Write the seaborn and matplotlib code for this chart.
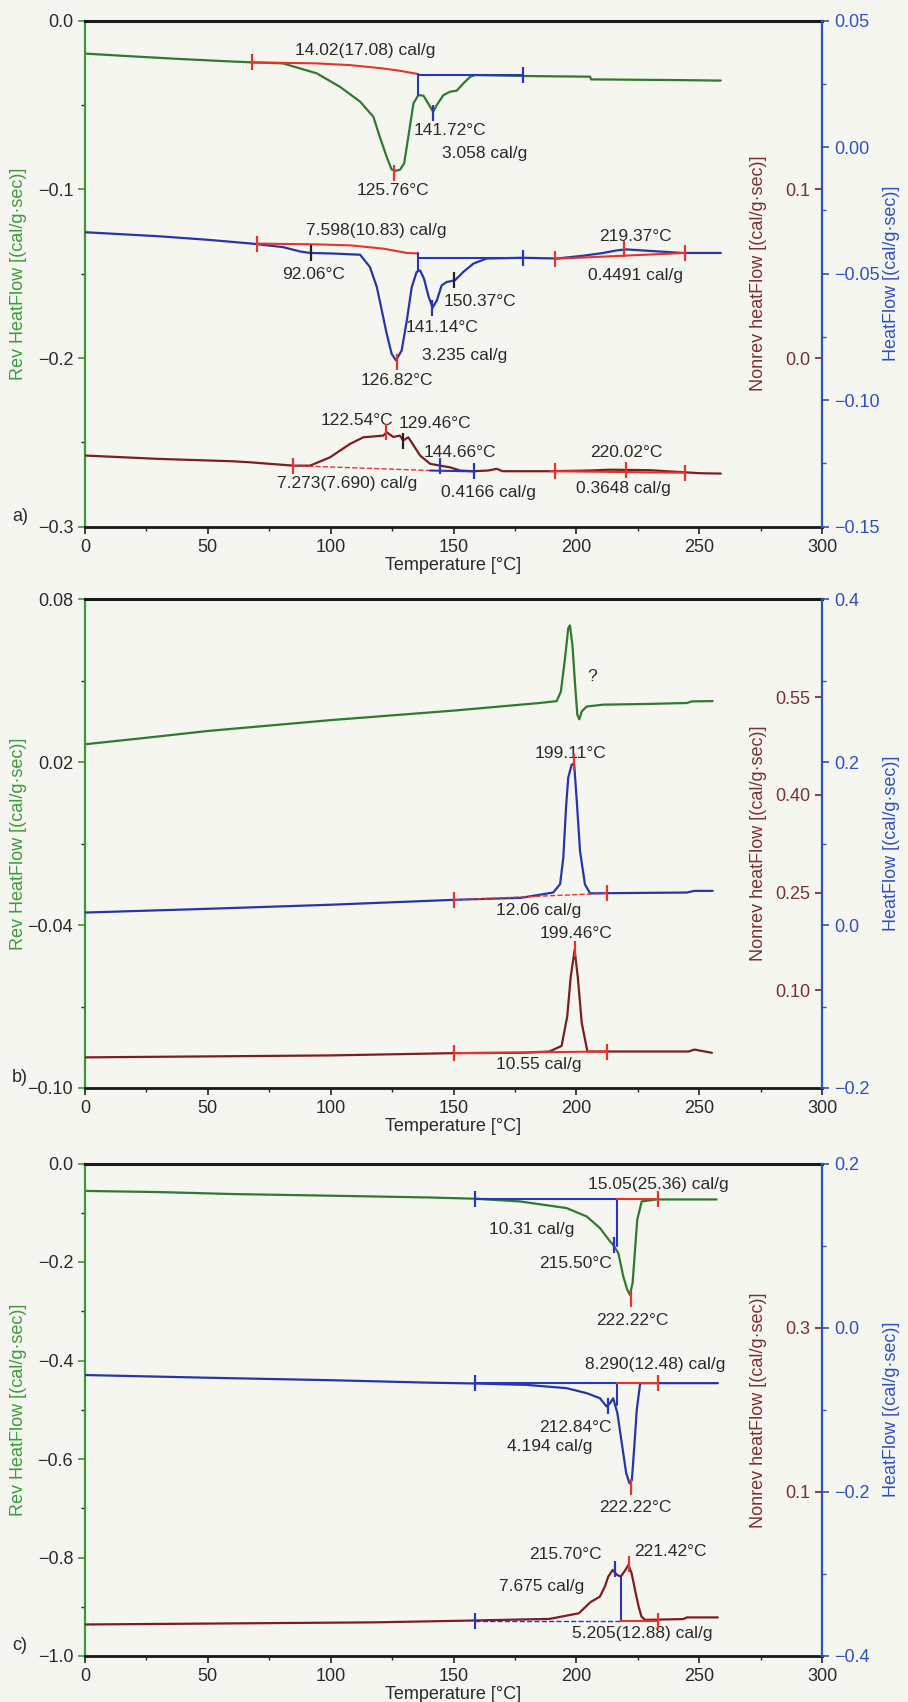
import seaborn as sns
import matplotlib.pyplot as plt
from matplotlib.ticker import FixedLocator, FuncFormatter, MultipleLocator

# ---------------- data: temperature [°C] and heat flow [cal/(g·s)] ----------------
# panel a)
a_rev_T = [0, 20, 40, 60, 68, 80.6, 94.3, 103.8, 112, 117.4, 120, 122.8, 124.8, 126.5, 128.2,
           129.9, 131.6, 133.7, 135.7, 137.8, 140.5, 141.7, 143.2, 145.9, 148.6, 151.3, 154,
           156.8, 158.8, 178.4, 205.6, 206, 241, 258.8]
a_rev = [-0.0195, -0.0212, -0.0228, -0.0242, -0.0247, -0.0253, -0.0312, -0.0392, -0.0480, -0.0570,
         -0.0689, -0.0807, -0.0882, -0.0890, -0.0884, -0.0847, -0.0689, -0.0490, -0.0441, -0.0445,
         -0.0510, -0.0540, -0.0500, -0.0441, -0.0421, -0.0415, -0.0372, -0.0332, -0.0322, -0.0328,
         -0.0332, -0.0348, -0.0352, -0.0355]
a_hf_T = [0, 30, 50, 68, 80.6, 87.5, 91.5, 100, 112, 116, 118.8, 120.8, 122.8, 124.8, 126.6,
          128.9, 131, 133, 135, 136.4, 138, 139.9, 141.5, 143.2, 145.2, 147.2, 150.6, 154, 158.1,
          163.5, 178.4, 192, 202.8, 211, 216.4, 220.4, 230, 243.5, 258.8]
a_hf = [-0.0336, -0.0352, -0.0366, -0.0381, -0.0395, -0.0412, -0.0418, -0.0420, -0.0425, -0.0474,
        -0.0553, -0.0645, -0.0737, -0.0816, -0.0843, -0.0803, -0.0685, -0.0553, -0.0493, -0.0487,
        -0.0520, -0.0592, -0.0634, -0.0606, -0.0546, -0.0533, -0.0526, -0.0493, -0.0460, -0.0440,
        -0.0437, -0.0440, -0.0429, -0.0418, -0.0408, -0.0404, -0.0410, -0.0418, -0.0418]
a_nr_T = [0, 30, 60, 67, 84.8, 91.6, 99.7, 107.9, 113.3, 121.4, 122.8, 125.5, 128.2, 129.5, 131.6,
          133.8, 136.4, 140.5, 144.5, 148.6, 152.7, 158.2, 164, 167.6, 170, 189.3, 205, 213.7, 230,
          236.8, 250.4, 258.8]
a_nr = [-0.0578, -0.0598, -0.0612, -0.0618, -0.0638, -0.0638, -0.0589, -0.0509, -0.0470, -0.0460,
        -0.0440, -0.0468, -0.0460, -0.0489, -0.0470, -0.0519, -0.0578, -0.0627, -0.0638, -0.0648,
        -0.0667, -0.0671, -0.0667, -0.0657, -0.0671, -0.0671, -0.0667, -0.0662, -0.0665, -0.0671,
        -0.0683, -0.0685]
# integration baselines: (axis, temperatures, values, colour, style)
a_base = [('rev', [68, 94, 107.6, 121.3, 128.2, 135.5], [-0.0247, -0.0253, -0.0263, -0.0283, -0.0297, -0.0316], 'r', '-'),
          ('rev', [135.7, 178.4], [-0.0322, -0.0322], 'b', '-'),
          ('rev', [135.7, 135.7], [-0.0316, -0.0441], 'b', '-'),
          ('hf', [69.9, 94, 108, 121.5, 131, 135.4], [-0.0381, -0.0384, -0.0388, -0.0401, -0.0418, -0.0420], 'r', '-'),
          ('hf', [135.4, 178.4], [-0.0437, -0.0437], 'b', '-'),
          ('hf', [135.4, 135.4], [-0.0420, -0.0487], 'b', '-'),
          ('hf', [191.3, 244.3], [-0.0441, -0.0418], 'r', '-'),
          ('nr', [84.8, 140.5], [-0.0638, -0.0667], 'r', '--'),
          ('nr', [140.5, 158.2], [-0.0667, -0.0672], 'b', '-'),
          ('nr', [189.3, 243.5], [-0.0671, -0.0680], 'r', '-')]
# cursor ticks: (axis, temperature, value, colour)
a_marks = [('rev', 68, -0.0247, 'r'), ('rev', 125.76, -0.0900, 'r'), ('rev', 141.72, -0.0545, 'b'),
           ('rev', 178.4, -0.0322, 'b'),
           ('hf', 69.9, -0.0381, 'r'), ('hf', 92.06, -0.0419, 'k'), ('hf', 126.82, -0.0850, 'r'),
           ('hf', 141.14, -0.0634, 'b'), ('hf', 150.37, -0.0526, 'k'), ('hf', 178.4, -0.0437, 'b'),
           ('hf', 191.3, -0.0441, 'r'), ('hf', 219.37, -0.0404, 'r'), ('hf', 244.3, -0.0418, 'r'),
           ('nr', 84.8, -0.0638, 'r'), ('nr', 122.54, -0.0440, 'r'), ('nr', 129.46, -0.0489, 'k'),
           ('nr', 144.66, -0.0638, 'b'), ('nr', 158.2, -0.0672, 'b'), ('nr', 191.3, -0.0671, 'r'),
           ('nr', 220.02, -0.0662, 'r'), ('nr', 244.3, -0.0680, 'r')]
a_text = [('14.02(17.08) cal/g', 114, -0.0174), ('141.72°C', 148.6, -0.0649), ('3.058 cal/g', 162.8, -0.0787),
          ('125.76°C', 125.5, -0.1005), ('7.598(10.83) cal/g', 118.7, -0.1243), ('219.37°C', 223.9, -0.1282),
          ('92.06°C', 92.9, -0.1504), ('0.4491 cal/g', 223.9, -0.151), ('150.37°C', 160.8, -0.1662),
          ('141.14°C', 145.5, -0.182), ('3.235 cal/g', 154.7, -0.1985), ('126.82°C', 126.9, -0.2133),
          ('122.54°C', 110.6, -0.237), ('129.46°C', 142.5, -0.239), ('144.66°C', 152.7, -0.2559),
          ('220.02°C', 220.5, -0.2559), ('7.273(7.690) cal/g', 106.5, -0.2746),
          ('0.4166 cal/g', 164.2, -0.2796), ('0.3648 cal/g', 219.1, -0.2776)]

# panel b)
b_rev_T = [0, 25, 50, 100, 150, 185, 192, 193.7, 195.4, 196.7, 197.4, 198.4, 199.5, 200.4, 201.2,
           202.2, 204.2, 211, 226, 245, 247, 255.5]
b_rev = [0.0266, 0.0290, 0.0315, 0.0355, 0.0390, 0.0418, 0.0425, 0.0460, 0.0583, 0.0693, 0.0704,
         0.0632, 0.0485, 0.0375, 0.0358, 0.0387, 0.0405, 0.0412, 0.0414, 0.0418, 0.0424, 0.0425]
b_hf_T = [0, 50, 100, 150, 177.5, 190.6, 193.4, 194.7, 195.8, 196.7, 198.1, 199.1, 200.1, 201.5,
          203.5, 205.6, 225, 245, 248, 255.5]
b_hf = [0.0154, 0.0200, 0.0250, 0.0310, 0.0335, 0.0400, 0.0504, 0.0830, 0.1440, 0.1810, 0.1970,
        0.1980, 0.1560, 0.0910, 0.0500, 0.0390, 0.0395, 0.0400, 0.0420, 0.0420]
b_nr_T = [0, 100, 150.4, 177.5, 189, 194, 196.3, 197.7, 199.3, 200.6, 202.2, 204.5, 245.8, 248, 255.2]
b_nr = [-0.003, 0.000, 0.0035, 0.004, 0.006, 0.0145, 0.060, 0.120, 0.162, 0.120, 0.050, 0.006,
        0.006, 0.009, 0.004]
b_base = [('hf', [150.4, 212.4], [0.031, 0.039], 'r', '--'),
          ('nr', [150.4, 212.4], [0.0035, 0.006], 'r', '-')]
b_marks = [('hf', 150.4, 0.031, 'r'), ('hf', 199.11, 0.200, 'r'), ('hf', 212.4, 0.039, 'r'),
           ('nr', 150.4, 0.0035, 'r'), ('nr', 199.46, 0.164, 'r'), ('nr', 212.4, 0.006, 'r')]
b_text = [('?', 206.3, 0.0514), ('199.11°C', 197.5, 0.0232), ('12.06 cal/g', 184.5, -0.0345),
          ('199.46°C', 199.9, -0.0430), ('10.55 cal/g', 184.5, -0.0915)]

# panel c)
c_rev_T = [0, 30, 60, 107, 140, 158.8, 177, 196, 204.2, 209.6, 213.7, 215, 217.1, 219.1, 220.7,
           221.8, 222.9, 223.9, 224.8, 226.6, 232.7, 257.1]
c_rev = [-0.0557, -0.0580, -0.0620, -0.0660, -0.0690, -0.0715, -0.0770, -0.0905, -0.1075, -0.1310,
         -0.1580, -0.1650, -0.1820, -0.2290, -0.2560, -0.2666, -0.2430, -0.1750, -0.1140, -0.0770,
         -0.0730, -0.0730]
c_hf_T = [0, 50, 100, 140, 158.8, 179.8, 196, 204.2, 209.6, 212.3, 213.7, 215, 216.7, 218.5, 220.3,
          221.6, 222.6, 223.5, 224.6, 226, 257.6]
c_hf = [-0.0577, -0.0610, -0.0640, -0.0670, -0.0680, -0.0697, -0.0737, -0.0798, -0.0859, -0.0960,
        -0.0920, -0.0860, -0.1040, -0.1407, -0.1773, -0.1895, -0.1860, -0.1489, -0.1000, -0.0676,
        -0.0676]
c_nr_T = [0, 50, 118, 154, 189, 201, 205.7, 209.6, 211.6, 213, 214.8, 216.5, 218.1, 219.8, 221.2,
          222.5, 223.9, 225.2, 226.5, 228, 243.5, 245, 257.6]
c_nr = [-0.0616, -0.0605, -0.0590, -0.0570, -0.0548, -0.0480, -0.0345, -0.0277, -0.0155, -0.0033,
        0.0048, -0.0010, -0.0033, 0.0040, 0.0109, 0.0008, -0.0196, -0.0378, -0.0520, -0.0560,
        -0.0550, -0.0530, -0.0530]
c_base = [('rev', [158.8, 216.4], [-0.0721, -0.0721], 'b', '-'),
          ('rev', [216.4, 216.4], [-0.0721, -0.168], 'b', '-'),
          ('rev', [216.4, 233.4], [-0.0721, -0.0721], 'r', '-'),
          ('hf', [158.8, 216.4], [-0.0676, -0.0676], 'b', '-'),
          ('hf', [216.4, 216.4], [-0.0676, -0.094], 'b', '-'),
          ('hf', [216.4, 233.4], [-0.0676, -0.0676], 'r', '-'),
          ('nr', [158.8, 218.1], [-0.057, -0.057], 'b', '--'),
          ('nr', [218.1, 218.1], [-0.057, -0.0033], 'b', '-'),
          ('nr', [218.1, 233.4], [-0.057, -0.057], 'r', '-')]
c_marks = [('rev', 158.8, -0.0721, 'b'), ('rev', 233.4, -0.0721, 'r'), ('rev', 215.5, -0.165, 'b'),
           ('rev', 222.22, -0.275, 'r'),
           ('hf', 158.8, -0.0676, 'b'), ('hf', 233.4, -0.0676, 'r'), ('hf', 212.84, -0.096, 'b'),
           ('hf', 222.22, -0.194, 'r'),
           ('nr', 158.8, -0.057, 'b'), ('nr', 233.4, -0.057, 'r'), ('nr', 215.7, 0.006, 'b'),
           ('nr', 221.42, 0.012, 'r')]
c_text = [('15.05(25.36) cal/g', 233.4, -0.043), ('10.31 cal/g', 181.8, -0.133), ('215.50°C', 199.5, -0.2036),
          ('222.22°C', 222.6, -0.3187), ('8.290(12.48) cal/g', 232, -0.4088), ('212.84°C', 199.5, -0.5354),
          ('4.194 cal/g', 189.3, -0.5748), ('222.22°C', 223.9, -0.698), ('215.70°C', 195.4, -0.7948),
          ('221.42°C', 238.2, -0.788), ('7.675 cal/g', 185.9, -0.859), ('5.205(12.88) cal/g', 227, -0.955)]

# ---------------- style ----------------
sns.set_theme(style='ticks')
plt.rcParams['font.family'] = ['Liberation Sans', 'DejaVu Sans']

GREEN = '#2f7a2c'
GREEN_AX = '#3c9a3c'
BLUE = '#2537a6'
BLUE_AX = '#2f50c0'
BROWN = '#7a1e1e'
BROWN_TXT = '#7a3030'
BG = '#f6f6f1'
MARK = {'r': '#e8322a', 'b': '#2537c0', 'k': '#222222'}


def fmt(spec):
    return FuncFormatter(lambda v, p: (spec % v).replace('-', '\u2212'))


panels = [
    dict(top=20.7, bottom=526.7, tag='a)',
         rev=(a_rev_T, a_rev), hf=(a_hf_T, a_hf), nr=(a_nr_T, a_nr),
         base=a_base, marks=a_marks, text=a_text,
         rev_lim=(-0.3, 0.0), rev_ticks=[0, -0.1, -0.2, -0.3], rev_minor=[-0.05, -0.15, -0.25], rev_fmt='%.1f',
         hf_lim=(-0.15, 0.05), hf_ticks=[0.05, 0, -0.05, -0.10, -0.15], hf_minor=[0.025, -0.025, -0.075, -0.125],
         hf_fmt='%.2f',
         nr_lim=(-0.1, 0.2), nr_ticks=[0.0, 0.1], nr_fmt='%.1f'),
    dict(top=599.3, bottom=1088, tag='b)',
         rev=(b_rev_T, b_rev), hf=(b_hf_T, b_hf), nr=(b_nr_T, b_nr),
         base=b_base, marks=b_marks, text=b_text,
         rev_lim=(-0.10, 0.08), rev_ticks=[0.08, 0.02, -0.04, -0.10], rev_minor=[0.05, -0.01, -0.07], rev_fmt='%.2f',
         hf_lim=(-0.2, 0.4), hf_ticks=[0.4, 0.2, 0.0, -0.2], hf_minor=[0.3, 0.1, -0.1], hf_fmt='%.1f',
         nr_lim=(-0.05, 0.70), nr_ticks=[0.10, 0.25, 0.40, 0.55], nr_fmt='%.2f'),
    dict(top=1163.5, bottom=1656, tag='c)',
         rev=(c_rev_T, c_rev), hf=(c_hf_T, c_hf), nr=(c_nr_T, c_nr),
         base=c_base, marks=c_marks, text=c_text,
         rev_lim=(-1.0, 0.0), rev_ticks=[0, -0.2, -0.4, -0.6, -0.8, -1.0],
         rev_minor=[-0.1, -0.3, -0.5, -0.7, -0.9], rev_fmt='%.1f',
         hf_lim=(-0.4, 0.2), hf_ticks=[0.2, 0.0, -0.2, -0.4], hf_minor=[0.1, -0.1, -0.3], hf_fmt='%.1f',
         nr_lim=(-0.1, 0.5), nr_ticks=[0.1, 0.3], nr_fmt='%.1f'),
]

W, H = 908, 1702
fig = plt.figure(figsize=(W / 100, H / 100), dpi=100, facecolor=BG)

for p in panels:
    ax = fig.add_axes([85 / W, 1 - p['bottom'] / H, 737 / W, (p['bottom'] - p['top']) / H])
    ax.set_facecolor(BG)
    ax_nr = ax.twinx()
    ax_hf = ax.twinx()
    axes = {'rev': ax, 'nr': ax_nr, 'hf': ax_hf}

    # curves
    sns.lineplot(x=p['rev'][0], y=p['rev'][1], ax=ax, color=GREEN, linewidth=1.6, sort=False, estimator=None)
    sns.lineplot(x=p['hf'][0], y=p['hf'][1], ax=ax_hf, color=BLUE, linewidth=1.6, sort=False, estimator=None)
    sns.lineplot(x=p['nr'][0], y=p['nr'][1], ax=ax_nr, color=BROWN, linewidth=1.6, sort=False, estimator=None)

    for key, ts, vs, c, ls in p['base']:
        axes[key].plot(ts, vs, color=MARK[c], lw=1.5 if ls == '-' else 1.0, ls=ls, zorder=3)
    for key, t, v, c in p['marks']:
        axes[key].plot([t], [v], marker='|', ms=11, mew=1.6, color=MARK[c], zorder=4)
    for s, t, v in p['text']:
        ax.text(t, v, s, ha='center', va='center', fontsize=12.5, color='#2a2a2a', zorder=5)

    # x axis
    ax.set_xlim(0, 300)
    ax.xaxis.set_major_locator(MultipleLocator(50))
    ax.xaxis.set_minor_locator(MultipleLocator(25))
    ax.set_xlabel('Temperature [°C]', fontsize=13, color='#2a2a2a', labelpad=1)

    # left (reversing) axis
    ax.set_ylim(*p['rev_lim'])
    ax.yaxis.set_major_locator(FixedLocator(p['rev_ticks']))
    ax.yaxis.set_minor_locator(FixedLocator(p['rev_minor']))
    ax.yaxis.set_major_formatter(fmt(p['rev_fmt']))
    ax.set_ylabel('Rev HeatFlow [(cal/g·sec)]', fontsize=13, color=GREEN_AX)
    ax.yaxis.set_label_coords(-0.079, 0.5)
    ax.tick_params(axis='both', which='major', length=5, width=1.2, labelsize=13,
                   labelcolor='#2a2a2a', direction='out')
    ax.tick_params(axis='both', which='minor', length=3, width=1.0, direction='out')
    ax.tick_params(axis='y', colors=GREEN_AX, labelcolor='#2a2a2a')
    ax.tick_params(axis='x', colors='#222222', labelcolor='#2a2a2a')
    ax.spines['left'].set_color(GREEN_AX)
    ax.spines['left'].set_linewidth(1.6)
    ax.spines['right'].set_visible(False)
    ax.spines['top'].set_color('#1a1a1a')
    ax.spines['top'].set_linewidth(2.2)
    ax.spines['bottom'].set_color('#1a1a1a')
    ax.spines['bottom'].set_linewidth(2.0)

    # non-reversing axis: ticks on the right border, labels inside
    ax_nr.set_ylim(*p['nr_lim'])
    ax_nr.spines['left'].set_position(('axes', 1.0))
    ax_nr.yaxis.set_ticks_position('left')
    ax_nr.yaxis.set_label_position('left')
    for s in ax_nr.spines.values():
        s.set_visible(False)
    ax_nr.yaxis.set_major_locator(FixedLocator(p['nr_ticks']))
    ax_nr.yaxis.set_major_formatter(fmt(p['nr_fmt']))
    ax_nr.tick_params(axis='y', length=5, width=1.2, labelsize=13, colors=BROWN, labelcolor=BROWN_TXT)
    ax_nr.set_ylabel('Nonrev heatFlow [(cal/g·sec)]', fontsize=13, color=BROWN_TXT)
    ax_nr.yaxis.set_label_coords(0.925, 0.5)

    # total heat flow axis
    ax_hf.set_ylim(*p['hf_lim'])
    for k in ['left', 'top', 'bottom']:
        ax_hf.spines[k].set_visible(False)
    ax_hf.spines['right'].set_color(BLUE_AX)
    ax_hf.spines['right'].set_linewidth(1.6)
    ax_hf.yaxis.set_major_locator(FixedLocator(p['hf_ticks']))
    ax_hf.yaxis.set_minor_locator(FixedLocator(p['hf_minor']))
    ax_hf.yaxis.set_major_formatter(fmt(p['hf_fmt']))
    ax_hf.tick_params(axis='y', which='major', length=5, width=1.2, labelsize=13,
                      colors=BLUE_AX, labelcolor=BLUE_AX)
    ax_hf.tick_params(axis='y', which='minor', length=3, width=1.0, colors=BLUE_AX)
    ax_hf.set_ylabel('HeatFlow [(cal/g·sec)]', fontsize=13, color=BLUE_AX)
    ax_hf.yaxis.set_label_coords(1.083, 0.5)

    fig.text(20 / W, 1 - (p['bottom'] - 10) / H, p['tag'], fontsize=13, color='#2a2a2a',
             ha='center', va='center')

plt.savefig('out.png', dpi=100, facecolor=BG)
plt.close()
